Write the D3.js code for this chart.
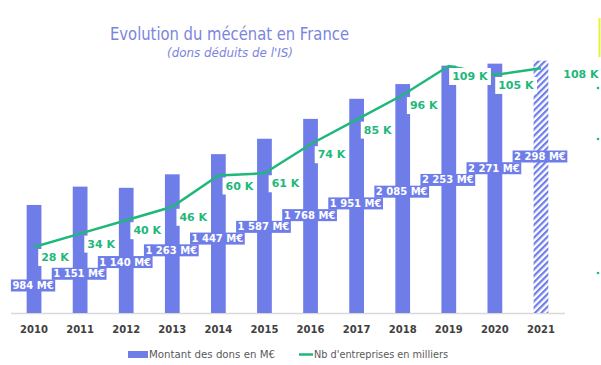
<!DOCTYPE html>
<html>
<head>
<meta charset="utf-8">
<script src="https://cdn.jsdelivr.net/npm/d3@7"></script>
<style>
  body { margin: 0; background: #fff; }
  svg { display: block; font-family: "DejaVu Sans", Verdana, sans-serif; }
</style>
</head>
<body>
<div id="chart"></div>
<script>
const years = ["2010", "2011", "2012", "2013", "2014", "2015", "2016", "2017", "2018", "2019", "2020", "2021"];
const dons = [984, 1151, 1140, 1263, 1447, 1587, 1768, 1951, 2085, 2253, 2271, 2298];
const entreprises = [28, 34, 40, 46, 60, 61, 74, 85, 96, 109, 105, 108];
const donLabels = ["984 M€", "1 151 M€", "1 140 M€", "1 263 M€", "1 447 M€", "1 587 M€", "1 768 M€", "1 951 M€", "2 085 M€", "2 253 M€", "2 271 M€", "2 298 M€"];
const entLabels = entreprises.map(d => d + " K");
const estimatedYear = "2021";

const width = 601, height = 365;
const baseline = 313;
const blue = "#6f7de9";
const green = "#1fb87a";

const svg = d3.select("#chart").append("svg")
    .attr("width", width)
    .attr("height", height);

const defs = svg.append("defs");
const hatch = defs.append("pattern")
    .attr("id", "hatch")
    .attr("patternUnits", "userSpaceOnUse")
    .attr("width", 4.5)
    .attr("height", 4.5)
    .attr("patternTransform", "rotate(45)");
hatch.append("rect").attr("width", 4.5).attr("height", 4.5).attr("fill", "#fff");
hatch.append("rect").attr("width", 2.2).attr("height", 4.5).attr("fill", blue);

const x = d3.scaleBand()
    .domain(years)
    .range([11, 564])
    .paddingInner(0.68)
    .paddingOuter(0.34);

const y = d3.scaleLinear()
    .domain([0, 2500])
    .range([baseline, 38.5]);

const y2 = d3.scaleLinear()
    .domain([0, 120])
    .range([309.6, 41.4]);

const cx = d => x(d) + x.bandwidth() / 2;

// title
svg.append("text")
    .attr("x", 229.5).attr("y", 40)
    .attr("text-anchor", "middle")
    .attr("font-size", 18)
    .attr("fill", "#7b84e0")
    .attr("textLength", 239)
    .attr("lengthAdjust", "spacingAndGlyphs")
    .text("Evolution du mécénat en France");

svg.append("text")
    .attr("x", 230).attr("y", 57)
    .attr("text-anchor", "middle")
    .attr("font-size", 12.5)
    .attr("font-style", "italic")
    .attr("fill", "#7b84e0")
    .attr("textLength", 126)
    .attr("lengthAdjust", "spacingAndGlyphs")
    .text("(dons déduits de l'IS)");

// axis line
svg.append("line")
    .attr("x1", 11).attr("x2", 565)
    .attr("y1", baseline + 0.5).attr("y2", baseline + 0.5)
    .attr("stroke", "#d9d9d9")
    .attr("stroke-width", 1.5);

// bars
svg.selectAll("rect.bar")
    .data(years)
    .enter()
    .append("rect")
    .attr("class", "bar")
    .attr("x", d => x(d))
    .attr("width", x.bandwidth())
    .attr("y", (d, i) => y(dons[i]))
    .attr("height", (d, i) => baseline - y(dons[i]))
    .attr("fill", d => d === estimatedYear ? "url(#hatch)" : blue);

// x axis labels
const xAxis = svg.append("g")
    .attr("transform", `translate(0, ${baseline})`)
    .call(d3.axisBottom(x).tickSize(0).tickPadding(13));
xAxis.select(".domain").remove();
xAxis.selectAll("text")
    .attr("font-family", "DejaVu Sans, sans-serif")
    .attr("font-size", 10)
    .attr("font-weight", "bold")
    .attr("fill", "#404040");

// line
const line = d3.line()
    .x((d, i) => cx(years[i]))
    .y(d => y2(d));

svg.append("path")
    .datum(entreprises)
    .attr("d", line)
    .attr("fill", "none")
    .attr("stroke", green)
    .attr("stroke-width", 2.5);

// bar labels (blue boxes) - staggered from bottom-left to top-right
const labelY = d3.scaleLinear().domain([0, years.length - 1]).range([289, 160]);

const donG = svg.selectAll("g.don")
    .data(years)
    .enter()
    .append("g")
    .attr("class", "don")
    .attr("transform", (d, i) => `translate(${cx(d) - 1}, ${labelY(i)})`);

donG.append("text")
    .attr("text-anchor", "middle")
    .attr("font-size", 10)
    .attr("font-weight", "bold")
    .attr("fill", "#fff")
    .text((d, i) => donLabels[i]);

donG.each(function() {
    const g = d3.select(this);
    const b = g.select("text").node().getBBox();
    g.insert("rect", "text")
        .attr("x", b.x - 1.5)
        .attr("y", b.y - 0.5)
        .attr("width", b.width + 3)
        .attr("height", b.height + 1)
        .attr("fill", blue);
});

// line labels (white boxes)
const entG = svg.selectAll("g.ent")
    .data(years)
    .enter()
    .append("g")
    .attr("class", "ent")
    .attr("transform", (d, i) => {
        const last = i === years.length - 1;
        const dx = last ? 40 : 21;
        const dy = last ? 10 : 14;
        return `translate(${cx(d) + dx}, ${y2(entreprises[i]) + dy})`;
    });

entG.append("text")
    .attr("text-anchor", "middle")
    .attr("font-size", 11)
    .attr("font-weight", "bold")
    .attr("fill", green)
    .text((d, i) => entLabels[i]);

entG.each(function(d, i) {
    if (i === years.length - 1) return;
    const g = d3.select(this);
    const b = g.select("text").node().getBBox();
    g.insert("rect", "text")
        .attr("x", b.x - 3)
        .attr("y", b.y - 2)
        .attr("width", b.width + 6)
        .attr("height", b.height + 4)
        .attr("fill", "#fff");
});

// legend
const legend = svg.append("g");
legend.append("rect")
    .attr("x", 128).attr("y", 351)
    .attr("width", 20).attr("height", 7)
    .attr("fill", blue);
legend.append("text")
    .attr("x", 149).attr("y", 358)
    .attr("font-size", 11)
    .attr("fill", "#595959")
    .attr("textLength", 126)
    .attr("lengthAdjust", "spacingAndGlyphs")
    .text("Montant des dons en M€");
legend.append("line")
    .attr("x1", 299).attr("x2", 313)
    .attr("y1", 354.5).attr("y2", 354.5)
    .attr("stroke", green)
    .attr("stroke-width", 2.5);
legend.append("text")
    .attr("x", 314).attr("y", 358)
    .attr("font-size", 11)
    .attr("fill", "#595959")
    .attr("textLength", 134)
    .attr("lengthAdjust", "spacingAndGlyphs")
    .text("Nb d'entreprises en milliers");

// slide remnants on the right edge
svg.append("line")
    .attr("x1", 599.5).attr("x2", 599.5)
    .attr("y1", 18).attr("y2", 57)
    .attr("stroke", "#e4f23c")
    .attr("stroke-width", 2);
svg.selectAll("circle.dot")
    .data([88, 139, 273])
    .enter()
    .append("circle")
    .attr("cx", 598).attr("cy", d => d)
    .attr("r", 1.3)
    .attr("fill", "#2bb673");
</script>
</body>
</html>
